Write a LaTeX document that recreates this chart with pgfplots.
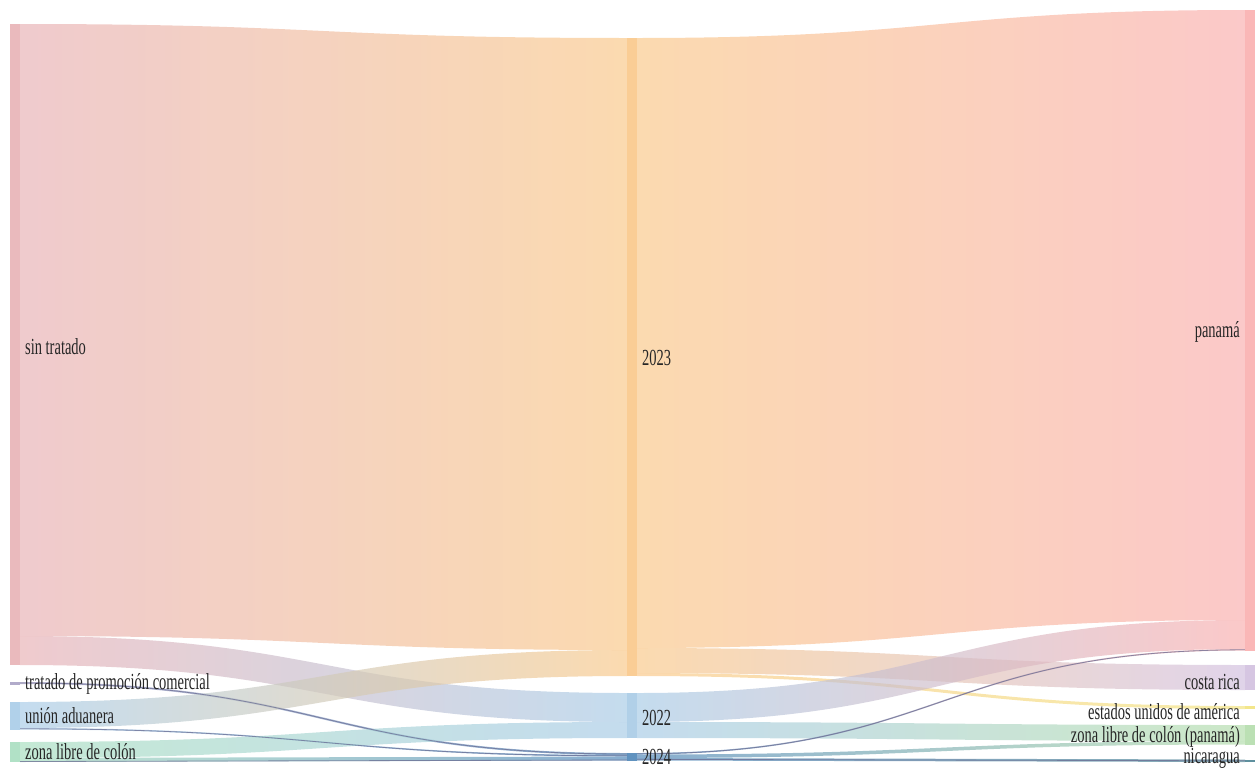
\documentclass[border=0pt]{standalone}
\usepackage{pgfplots}
\pgfplotsset{compat=1.18}
\usepackage{pgfplotstable}
\usepackage{fontspec}
\setmainfont{Liberation Serif}[FakeStretch=0.63]
\definecolor{cST}{HTML}{E8B2B6}
\definecolor{cTPC}{HTML}{A9A2C4}
\definecolor{cUA}{HTML}{A8CCE8}
\definecolor{cZLC}{HTML}{A8DEC0}
\definecolor{cYc}{HTML}{F9C88A}
\definecolor{cYb}{HTML}{A8CBE6}
\definecolor{cYd}{HTML}{4F86B8}
\definecolor{cPA}{HTML}{F9AFAF}
\definecolor{cCR}{HTML}{D2C0DF}
\definecolor{cUS}{HTML}{F2E37E}
\definecolor{cZP}{HTML}{B4DDAC}
\definecolor{cNI}{HTML}{4E8494}
\definecolor{lnA}{HTML}{6A6C92}

% flows: source x, source top, source bottom, target x, target top, target bottom
\pgfplotstableread{
xa ya yb xb yc yd ca cb
20 24 636 627 38 650 cST cYc
20 636 665 627 693 722 cST cYb
20 682 684 627 753 755 cTPC cYd
20 702 728 627 650 676 cUA cYc
20 728 729.5 627 755 756.5 cUA cYd
20 742 758 627 722 738 cZLC cYb
20 758 762 627 756.5 760.5 cZLC cYd
637 38 648 1245 10 620 cYc cPA
637 648 673 1245 665 690 cYc cCR
637 673 676 1245 706 709 cYc cUS
637 693 722 1245 620 649 cYb cPA
637 722 738 1245 725 741 cYb cZP
637 753 754.5 1245 649 650.5 cYd cPA
637 754.5 758 1245 741 744.5 cYd cZP
637 758 760.5 1245 759.5 762 cYd cNI
}\flows

% thin links drawn as lines: x0 y0 x1 y1
\pgfplotstableread{
xa ya xb yb
20 683 627 754
20 728.8 627 755.8
637 753.8 1245 649.8
637 759.3 1245 760.8
20 761.5 627 760
}\thin

% nodes: x0 x1 y0 y1 colour
\pgfplotstableread{
xa xb ya yb c
10 20 24 665 cST
10 20 682 684.5 cTPC
10 20 702 729.5 cUA
10 20 742 762 cZLC
627 637 38 676 cYc
627 637 693 738 cYb
627 637 753 760.5 cYd
1245 1255 10 650.5 cPA
1245 1255 665 690 cCR
1245 1255 706 709 cUS
1245 1255 725 744.5 cZP
1245 1255 759.5 762 cNI
}\nodes

\pgfplotstablegetrowsof{\flows}\pgfmathtruncatemacro\nF{\pgfplotsretval-1}
\pgfplotstablegetrowsof{\thin}\pgfmathtruncatemacro\nT{\pgfplotsretval-1}
\pgfplotstablegetrowsof{\nodes}\pgfmathtruncatemacro\nN{\pgfplotsretval-1}

\begin{document}
\begin{tikzpicture}
\begin{axis}[name=ax, width=1255pt, height=769pt, scale only axis,
  xmin=0, xmax=1255, ymin=0, ymax=769, y dir=reverse,
  hide axis, clip=false]
\pgfplotsinvokeforeach{0,...,\nF}{
  \pgfplotstablegetelem{#1}{xa}\of\flows\let\fXa\pgfplotsretval
  \pgfplotstablegetelem{#1}{ya}\of\flows\let\fYa\pgfplotsretval
  \pgfplotstablegetelem{#1}{yb}\of\flows\let\fYb\pgfplotsretval
  \pgfplotstablegetelem{#1}{xb}\of\flows\let\fXb\pgfplotsretval
  \pgfplotstablegetelem{#1}{yc}\of\flows\let\fYc\pgfplotsretval
  \pgfplotstablegetelem{#1}{yd}\of\flows\let\fYd\pgfplotsretval
  \pgfplotstablegetelem{#1}{ca}\of\flows\let\fCa\pgfplotsretval
  \pgfplotstablegetelem{#1}{cb}\of\flows\let\fCb\pgfplotsretval
  \pgfmathsetmacro\fXm{(\fXa+\fXb)/2}
  \edef\tmp{\noexpand\shade[left color=\fCa, right color=\fCb, fill opacity=0.68]
    (axis cs:\fXa,\fYa) .. controls (axis cs:\fXm,\fYa) and (axis cs:\fXm,\fYc) .. (axis cs:\fXb,\fYc)
    -- (axis cs:\fXb,\fYd) .. controls (axis cs:\fXm,\fYd) and (axis cs:\fXm,\fYb) .. (axis cs:\fXa,\fYb) -- cycle;}
  \tmp
}
\pgfplotsinvokeforeach{0,...,\nT}{
  \pgfplotstablegetelem{#1}{xa}\of\thin\let\fXa\pgfplotsretval
  \pgfplotstablegetelem{#1}{ya}\of\thin\let\fYa\pgfplotsretval
  \pgfplotstablegetelem{#1}{xb}\of\thin\let\fXb\pgfplotsretval
  \pgfplotstablegetelem{#1}{yb}\of\thin\let\fYb\pgfplotsretval
  \pgfmathsetmacro\fXm{(\fXa+\fXb)/2}
  \edef\tmp{\noexpand\draw[lnA, line width=0.8pt, opacity=0.75]
    (axis cs:\fXa,\fYa) .. controls (axis cs:\fXm,\fYa) and (axis cs:\fXm,\fYb) .. (axis cs:\fXb,\fYb);}
  \tmp
}
\pgfplotsinvokeforeach{0,...,\nN}{
  \pgfplotstablegetelem{#1}{xa}\of\nodes\let\fXa\pgfplotsretval
  \pgfplotstablegetelem{#1}{xb}\of\nodes\let\fXb\pgfplotsretval
  \pgfplotstablegetelem{#1}{ya}\of\nodes\let\fYa\pgfplotsretval
  \pgfplotstablegetelem{#1}{yb}\of\nodes\let\fYb\pgfplotsretval
  \pgfplotstablegetelem{#1}{c}\of\nodes\let\fCa\pgfplotsretval
  \edef\tmp{\noexpand\fill[\fCa, opacity=0.9] (axis cs:\fXa,\fYa) rectangle (axis cs:\fXb,\fYb);}
  \tmp
}
\begin{scope}[every node/.style={inner sep=0pt, font=\fontsize{23}{25}\selectfont, text=black!85}]
\node[anchor=west] at (axis cs:25,347) {sin tratado};
\node[anchor=west] at (axis cs:25,684) {tratado de promoción comercial};
\node[anchor=west] at (axis cs:25,716) {unión aduanera};
\node[anchor=west] at (axis cs:25,752) {zona libre de colón};
\node[anchor=west] at (axis cs:642,358) {2023};
\node[anchor=west] at (axis cs:642,718) {2022};
\node[anchor=west] at (axis cs:642,757) {2024};
\node[anchor=east] at (axis cs:1240,332) {panamá};
\node[anchor=east] at (axis cs:1240,682) {costa rica};
\node[anchor=east] at (axis cs:1240,712) {estados unidos de américa};
\node[anchor=east] at (axis cs:1240,737) {zona libre de colón (panamá)};
\node[anchor=east] at (axis cs:1240,758) {nicaragua};
\end{scope}
\end{axis}
\pgfresetboundingbox
\path (ax.south west) rectangle (ax.north east);
\end{tikzpicture}
\end{document}
